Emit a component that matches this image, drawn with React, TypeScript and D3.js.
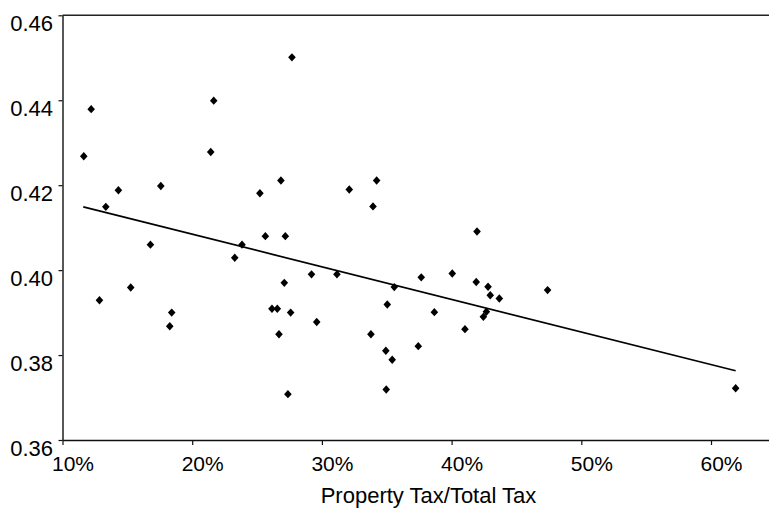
import { useEffect, useRef } from 'react';
import * as d3 from 'd3';

// share of property tax in total tax (%), and the y value for each state
const propertyShare = [
	11.64, 12.21, 13.34, 14.31, 12.85, 15.26, 16.78, 17.58, 18.42, 18.27,
	21.43, 21.66, 23.28, 23.84, 25.22, 25.64, 26.84, 27.18, 27.69, 27.1,
	26.15, 26.56, 27.59, 26.69, 27.38, 29.2, 29.6, 31.16, 32.11, 33.94,
	34.22, 33.78, 35.04, 34.93, 35.42, 34.96, 35.58, 37.43, 37.66, 38.67,
	40.05, 41.03, 41.96, 41.9, 42.81, 42.98, 43.68, 42.68, 42.45, 47.4,
	61.9,
];
const values = [
	0.4268, 0.4379, 0.4149, 0.4188, 0.3929, 0.3959, 0.406, 0.4198, 0.39, 0.3868,
	0.4278, 0.4399, 0.4029, 0.406, 0.4181, 0.408, 0.4211, 0.408, 0.4501, 0.397,
	0.3909, 0.3909, 0.39, 0.3849, 0.3708, 0.399, 0.3878, 0.399, 0.419, 0.415,
	0.4211, 0.3849, 0.3919, 0.381, 0.3789, 0.3719, 0.396, 0.3821, 0.3983, 0.3901,
	0.3992, 0.3861, 0.4091, 0.3972, 0.3961, 0.3941, 0.3933, 0.3902, 0.389, 0.3953,
	0.3722,
];

// fitted trend line end points
const trendX = [11.6, 61.9];
const trendY = [0.4149, 0.3763];

const xTicks = [10, 20, 30, 40, 50, 60];
const yTicks = [0.36, 0.38, 0.4, 0.42, 0.44, 0.46];

const W = 769;
const H = 509;
const FONT = '"Liberation Sans", Arial, sans-serif';

export default function App() {
	const ref = useRef<SVGSVGElement | null>(null);

	useEffect(() => {
		if (!ref.current) return;
		const svg = d3.select(ref.current);
		svg.selectAll('*').remove();

		const x = d3.scaleLinear().domain([10, 65]).range([62.5, 62.5 + 55 * 12.97]);
		const y = d3.scaleLinear().domain([0.36, 0.46]).range([440, 15.3]);

		// top frame line
		svg
			.append('line')
			.attr('x1', x(10))
			.attr('x2', W)
			.attr('y1', y(0.46))
			.attr('y2', y(0.46))
			.attr('stroke', '#222')
			.attr('stroke-width', 1.4);

		const xAxis = svg
			.append('g')
			.attr('transform', `translate(0, ${y(0.36)})`)
			.call(
				d3
					.axisBottom(x)
					.tickValues(xTicks)
					.tickSize(5)
					.tickSizeOuter(0)
					.tickFormat(d => `${d}%`)
			);
		xAxis.select('.domain').attr('stroke', '#111').attr('stroke-width', 1.4);
		xAxis.selectAll('line').attr('stroke', '#111').attr('stroke-width', 1.2);
		xAxis
			.selectAll('text')
			.attr('y', 31)
			.attr('dy', 0)
			.attr('x', 10)
			.style('font-family', FONT)
			.style('font-size', '21px')
			.style('fill', '#000');

		const yAxis = svg
			.append('g')
			.attr('transform', `translate(${x(10)}, 0)`)
			.call(
				d3
					.axisLeft(y)
					.tickValues(yTicks)
					.tickSize(4)
					.tickSizeOuter(0)
					.tickFormat(d3.format('.2f'))
			);
		yAxis.select('.domain').attr('stroke', '#111').attr('stroke-width', 1.4);
		yAxis.selectAll('line').attr('stroke', '#111').attr('stroke-width', 1.2);
		yAxis
			.selectAll('text')
			.attr('x', -9.5)
			.attr('dy', 15)
			.style('font-family', FONT)
			.style('font-size', '22px')
			.style('fill', '#000');

		// trend line
		const line = d3
			.line<number>()
			.x(i => x(trendX[i]))
			.y(i => y(trendY[i]));
		svg
			.append('path')
			.datum([0, 1])
			.attr('fill', 'none')
			.attr('stroke', '#000')
			.attr('stroke-width', 1.7)
			.attr('d', line);

		// diamond markers
		svg
			.append('g')
			.selectAll('path')
			.data(propertyShare.map((p, i) => [p, values[i]]))
			.join('path')
			.attr('transform', d => `translate(${x(d[0])}, ${y(d[1])})`)
			.attr('d', 'M0,-4.2L3.8,0L0,4.2L-3.8,0Z')
			.attr('fill', '#000');

		svg
			.append('text')
			.attr('x', 428.5)
			.attr('y', 503)
			.attr('text-anchor', 'middle')
			.style('font-family', FONT)
			.style('font-size', '22px')
			.style('fill', '#000')
			.text('Property Tax/Total Tax');
	}, []);

	return (
		<svg
			ref={ref}
			width={W}
			height={H}
			style={{ position: 'absolute', left: 0, top: 0, background: '#fff' }}
		/>
	);
}
